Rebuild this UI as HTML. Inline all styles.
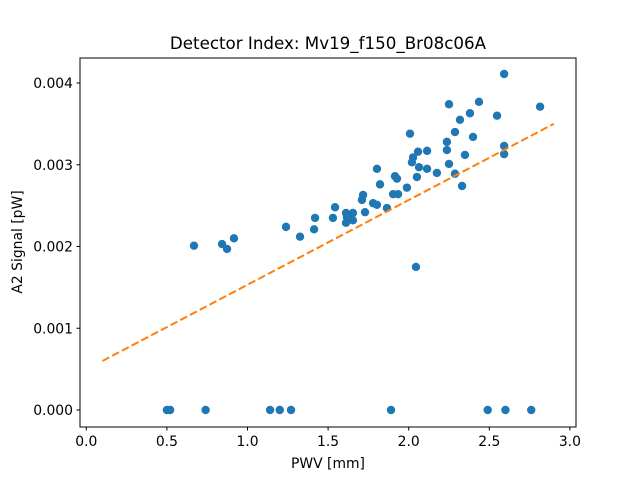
<!DOCTYPE html>
<html><head><meta charset="utf-8"><style>
html,body{margin:0;padding:0;background:#fff;}
svg{display:block;font-family:"DejaVu Sans","Liberation Sans",sans-serif;}
</style></head><body>
<svg id="chart" width="640" height="480" viewBox="0 0 640 480">
<rect x="0" y="0" width="640" height="480" fill="#fff"/>
<text x="328" y="49" font-size="16.7" text-anchor="middle">Detector Index: Mv19_f150_Br08c06A</text>
<g id="plot"></g>
<rect x="80" y="58" width="496" height="369" fill="none" stroke="#000" stroke-width="1"/>
<text x="328" y="468" font-size="13.9" text-anchor="middle">PWV [mm]</text>
<text x="22" y="242" font-size="13.9" text-anchor="middle" transform="rotate(-90 22 242)">A2 Signal [pW]</text>
</svg>
<script>
const pwv = [0.50,0.52,0.74,1.14,1.20,1.27,1.89,2.49,2.60,2.76,
0.668,0.842,0.873,0.916,1.239,1.326,1.419,1.413,1.543,1.530,1.611,1.611,1.654,1.654,1.636,1.617,
1.717,1.710,1.729,1.779,1.803,1.865,1.822,1.803,1.915,1.927,1.903,1.934,1.989,2.045,2.008,2.027,
2.020,2.058,2.114,2.064,2.114,2.051,2.175,2.237,2.237,2.250,2.287,2.331,2.250,2.287,2.318,2.380,
2.436,2.349,2.399,2.548,2.592,2.592,2.592,2.815];
const signal = [0,0,0,0,0,0,0,0,0,0,
0.00201,0.00203,0.00197,0.00210,0.00224,0.00212,0.00235,0.00221,0.00248,0.00235,0.00241,0.00229,0.00241,0.00232,0.00236,0.00236,
0.00263,0.00257,0.00242,0.00253,0.00251,0.00247,0.00276,0.00295,0.00286,0.00283,0.00264,0.00264,0.00272,0.00175,0.00338,0.00309,
0.00303,0.00316,0.00317,0.00297,0.00295,0.00285,0.00290,0.00328,0.00318,0.00301,0.00289,0.00274,0.00374,0.00340,0.00355,0.00363,
0.00377,0.00312,0.00334,0.00360,0.00411,0.00323,0.00313,0.00371];
const fitX = [0.1, 2.9];
const fitSlope = 0.001036;
const fitIntercept = 0.000496;
const xTicks = [0.0,0.5,1.0,1.5,2.0,2.5,3.0];
const xTickLabels = ["0.0","0.5","1.0","1.5","2.0","2.5","3.0"];
const yTicks = [0,0.001,0.002,0.003,0.004];
const yTickLabels = ["0.000","0.001","0.002","0.003","0.004"];

const NS = "http://www.w3.org/2000/svg";
const sx = v => 86.3 + v * 161.2;
const sy = v => 410 - v * 81750;
const g = document.getElementById('plot');
function mk(tag, attrs){ const e=document.createElementNS(NS,tag); for(const k in attrs) e.setAttribute(k,attrs[k]); g.appendChild(e); return e; }

xTicks.forEach((t,i)=>{
  const l = mk('line',{x1:sx(t),x2:sx(t),y1:427,y2:430.5,stroke:'#000','stroke-width':1});
  
  
  const tx = mk('text',{x:sx(t),y:446,'font-size':13.9,'text-anchor':'middle'});
  tx.textContent = xTickLabels[i];
  
  
});
yTicks.forEach((t,i)=>{
  const l = mk('line',{x1:76.5,x2:80,y1:sy(t),y2:sy(t),stroke:'#000','stroke-width':1});
  
  
  const tx = mk('text',{x:73,y:sy(t)+5,'font-size':13.9,'text-anchor':'end'});
  tx.textContent = yTickLabels[i];
  
  
});
pwv.forEach((x,i)=>{
  const c = mk('circle',{cx:sx(x),cy:sy(signal[i]),r:4.2,fill:'#1f77b4'});
  
  
});
const fl = mk('line',{x1:sx(fitX[0]),y1:sy(fitIntercept+fitSlope*fitX[0]),x2:sx(fitX[1]),y2:sy(fitIntercept+fitSlope*fitX[1]),stroke:'#ff7f0e','stroke-width':2,'stroke-dasharray':'7.7,3.3'});


</script>
</body></html>
